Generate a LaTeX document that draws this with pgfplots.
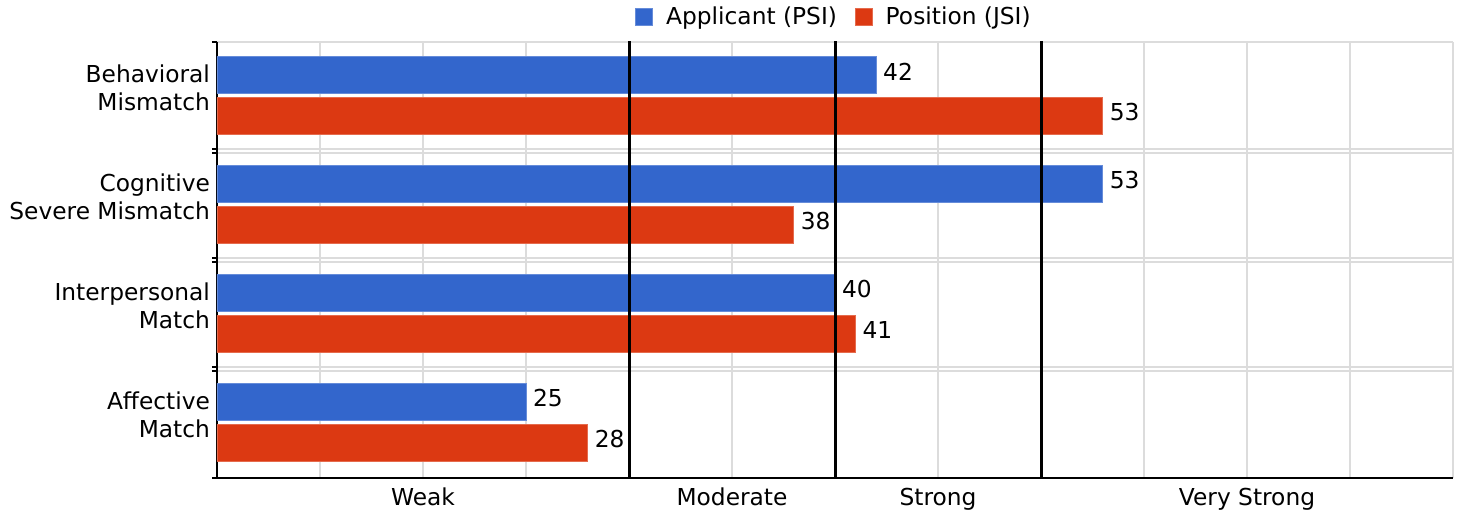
\documentclass[border=0pt]{standalone}
\usepackage{fontspec}
\setmainfont{DejaVu Sans}
\usepackage{pgfplots}
\pgfplotsset{compat=1.18}
\definecolor{cblue}{HTML}{3366CC}
\definecolor{cred}{HTML}{DC3912}
\definecolor{cgrid}{HTML}{DCDCDC}
\newcommand\cf{\fontsize{11.7}{14}\selectfont}
\begin{document}
\begin{tikzpicture}
\path[use as bounding box] (-108.5bp,-16.5bp) rectangle (622bp,239bp);
\begin{axis}[
  at={(0,0)}, anchor=south west,
  scale only axis, width=618bp, height=218bp,
  xbar, bar width=18.5bp,
  xmin=10, xmax=70, ymin=-0.5, ymax=3.5,
  axis x line*=bottom, axis y line*=left,
  axis line style={black, line width=0.8bp},
  /pgf/number format/assume math mode=true,
  xtick={20,35,45,60},
  xticklabels={Weak,Moderate,Strong,Very Strong},
  ytick={0,1,2,3},
  yticklabels={{Affective\\Match},{Interpersonal\\Match},{Cognitive\\Severe Mismatch},{Behavioral\\Mismatch}},
  yticklabel style={align=right, font=\cf, yshift=4.5bp},
  xticklabel style={font=\cf, yshift=-1.5bp},
  major tick length=0pt,
  minor tick length=2.5bp,
  tick align=outside,
  minor xtick={10,15,...,70},
  minor ytick={-0.5,0.484,0.516,1.484,1.516,2.484,2.516,3.5},
  x tick style={draw=none},
  y tick style={black, line width=0.8bp},
  xminorgrids, yminorgrids,
  minor grid style={cgrid, line width=1bp},
  nodes near coords,
  every node near coord/.append style={font=\cf, black, yshift=1.8bp},
  legend style={at={(0.5,1.057)}, anchor=center, draw=none, fill=none,
    legend columns=2, font=\cf,
    /tikz/every odd column/.append style={column sep=4.5bp},
    /tikz/every even column/.append style={column sep=7bp}},
  legend image code/.code={\fill[#1] (0bp,-4.25bp) rectangle (8.5bp,4.25bp);},
]
\addplot[fill=cblue, draw=cblue!75!white, bar shift=10.75bp]
  coordinates {(42,3) (53,2) (40,1) (25,0)};
\addlegendentry{Applicant (PSI)}
\addplot[fill=cred, draw=cred!75!white, bar shift=-9.75bp]
  coordinates {(53,3) (38,2) (41,1) (28,0)};
\addlegendentry{Position (JSI)}
\draw[line width=1.5bp] ([yshift=-4.5bp]axis cs:30,-0.5) -- ([yshift=1bp]axis cs:30,3.5);
\draw[line width=1.5bp] ([yshift=-4.5bp]axis cs:40,-0.5) -- ([yshift=1bp]axis cs:40,3.5);
\draw[line width=1.5bp] ([yshift=-4.5bp]axis cs:50,-0.5) -- ([yshift=1bp]axis cs:50,3.5);
\end{axis}
\end{tikzpicture}
\end{document}
